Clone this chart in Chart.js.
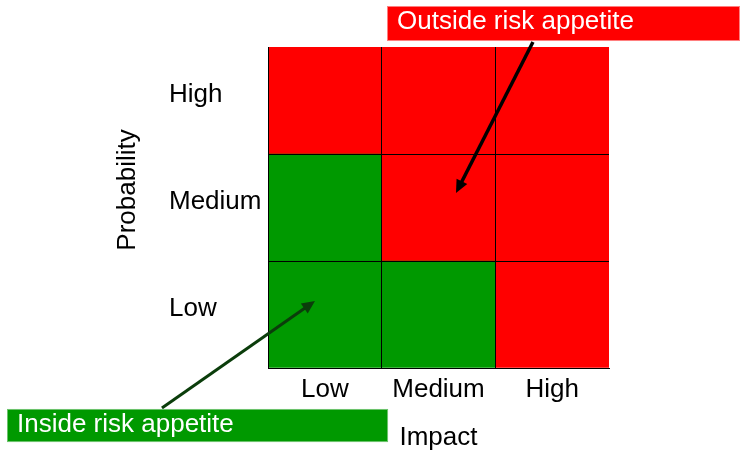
<!DOCTYPE html>
<html>
<head>
<meta charset="utf-8">
<title>Risk appetite matrix</title>
<script src="https://cdn.jsdelivr.net/npm/chart.js@4"></script>
<style>
  html, body { margin: 0; padding: 0; background: #ffffff; }
  #wrap { width: 749px; height: 453px; }
</style>
</head>
<body>
<div id="wrap"><canvas id="matrix" width="749" height="453"></canvas></div>
<script>
// Axis categories
const impactLabels = ['Low', 'Medium', 'High'];
const probabilityLabels = ['Low', 'Medium', 'High'];

// Appetite status of each cell, one list per probability row (Low → High impact)
const lowProbabilityRow = ['inside', 'inside', 'outside'];
const mediumProbabilityRow = ['inside', 'outside', 'outside'];
const highProbabilityRow = ['outside', 'outside', 'outside'];

// Each probability row spans one band on the vertical scale
const bandSpan = [1, 1, 1];

const FONT = "'Liberation Sans', Arial, Helvetica, sans-serif";
const RED = '#ff0000';
const GREEN = '#009900';
const statusColor = s => (s === 'inside' ? GREEN : RED);

const rows = [lowProbabilityRow, mediumProbabilityRow, highProbabilityRow];
const datasets = rows.map((row, i) => ({
  label: probabilityLabels[i],
  data: bandSpan,
  backgroundColor: row.map(statusColor),
  borderWidth: 0,
  barPercentage: 1,
  categoryPercentage: 1,
  stack: 'probability'
}));

// Callout boxes and arrows, placed in scale units (impact index, probability band)
const callouts = [
  {
    text: 'Outside risk appetite', fill: RED, stroke: 'rgba(255,140,140,0.9)',
    box: { x0: 0.547, x1: 3.652, y0: 3.383, y1: 3.056 },
    from: [1.831, 3.047], to: [1.154, 1.636], arrowColor: '#000000', arrowWidth: 3.5
  },
  {
    text: 'Inside risk appetite', fill: GREEN, stroke: 'rgba(120,200,120,0.9)',
    box: { x0: -2.796, x1: 0.556, y0: -0.383, y1: -0.692 },
    from: [-1.433, -0.374], to: [-0.087, 0.626], arrowColor: '#0b3d0b', arrowWidth: 3
  }
];

const verticalTitle = { text: 'Probability', at: [-1.732, 1.664] };

const calloutPlugin = {
  id: 'callouts',
  afterDraw(chart) {
    const { ctx, scales } = chart;
    const px = v => scales.x.getPixelForValue(v);
    const py = v => scales.y.getPixelForValue(v);
    ctx.save();

    callouts.forEach(c => {
      // arrow shaft
      const x1 = px(c.from[0]), y1 = py(c.from[1]);
      const x2 = px(c.to[0]), y2 = py(c.to[1]);
      const ang = Math.atan2(y2 - y1, x2 - x1);
      const headLen = 13, headHalf = 6;
      ctx.strokeStyle = c.arrowColor;
      ctx.lineWidth = c.arrowWidth;
      ctx.lineCap = 'butt';
      ctx.beginPath();
      ctx.moveTo(x1, y1);
      ctx.lineTo(x2 - Math.cos(ang) * headLen * 0.8, y2 - Math.sin(ang) * headLen * 0.8);
      ctx.stroke();
      // arrow head
      ctx.fillStyle = c.arrowColor;
      ctx.beginPath();
      ctx.moveTo(x2, y2);
      ctx.lineTo(x2 - Math.cos(ang) * headLen - Math.sin(ang) * headHalf,
                 y2 - Math.sin(ang) * headLen + Math.cos(ang) * headHalf);
      ctx.lineTo(x2 - Math.cos(ang) * headLen + Math.sin(ang) * headHalf,
                 y2 - Math.sin(ang) * headLen - Math.cos(ang) * headHalf);
      ctx.closePath();
      ctx.fill();

      // label box
      const bx = px(c.box.x0), by = py(c.box.y0);
      const bw = px(c.box.x1) - bx, bh = py(c.box.y1) - by;
      ctx.fillStyle = c.fill;
      ctx.fillRect(bx, by, bw, bh);
      ctx.strokeStyle = c.stroke;
      ctx.lineWidth = 1;
      ctx.strokeRect(Math.round(bx) + 0.5, Math.round(by) + 0.5, Math.round(bw) - 1, Math.round(bh) - 1);

      ctx.fillStyle = '#ffffff';
      ctx.font = '26px ' + FONT;
      ctx.textAlign = 'left';
      ctx.textBaseline = 'middle';
      ctx.fillText(c.text, bx + 10, by + 16);
    });

    // vertical axis title
    ctx.fillStyle = '#000000';
    ctx.font = '26px ' + FONT;
    ctx.textAlign = 'center';
    ctx.textBaseline = 'middle';
    ctx.translate(px(verticalTitle.at[0]), py(verticalTitle.at[1]));
    ctx.rotate(-Math.PI / 2);
    ctx.fillText(verticalTitle.text, 0, 0);
    ctx.restore();
  }
};

new Chart(document.getElementById('matrix'), {
  type: 'bar',
  data: { labels: impactLabels, datasets },
  plugins: [calloutPlugin],
  options: {
    responsive: false,
    devicePixelRatio: 1,
    animation: false,
    layout: { padding: { left: 169, top: 47, right: 140, bottom: 0 } },
    plugins: { legend: { display: false }, tooltip: { enabled: false } },
    scales: {
      x: {
        type: 'category',
        stacked: true,
        offset: true,
        grid: {
          z: 1,
          offset: true,
          drawTicks: false,
          lineWidth: 1,
          color: ctx => (ctx.index === 1 || ctx.index === 2 ? '#000000' : 'rgba(0,0,0,0)')
        },
        border: { display: true, color: '#000000', width: 1, z: 1 },
        ticks: { color: '#000000', padding: 6, font: { family: FONT, size: 26 } },
        title: {
          display: true, text: 'Impact', color: '#000000',
          padding: { top: 0, bottom: 0 },
          font: { family: FONT, size: 26 }
        },
        afterFit: s => { s.height = 85; }
      },
      y: {
        type: 'linear',
        position: 'left',
        weight: 0,
        stacked: true,
        min: 0,
        max: 3,
        ticks: { display: false, stepSize: 1 },
        grid: {
          z: 1,
          drawTicks: false,
          lineWidth: 1,
          color: ctx => (ctx.tick && (ctx.tick.value === 1 || ctx.tick.value === 2) ? '#000000' : 'rgba(0,0,0,0)')
        },
        border: { display: true, color: '#000000', width: 1, z: 1 },
        afterFit: s => { s.width = 0; }
      },
      yLabels: {
        type: 'linear',
        position: 'left',
        weight: 1,
        min: 0,
        max: 3,
        grid: { display: false, drawTicks: false },
        border: { display: false },
        afterBuildTicks: s => { s.ticks = probabilityLabels.map((_, i) => ({ value: i + 0.5 })); },
        ticks: {
          crossAlign: 'far',
          labelOffset: -6,
          color: '#000000',
          font: { family: FONT, size: 26 },
          callback: (v, i) => probabilityLabels[i]
        },
        afterFit: s => { s.width = 99; }
      }
    }
  }
});
</script>
</body>
</html>
